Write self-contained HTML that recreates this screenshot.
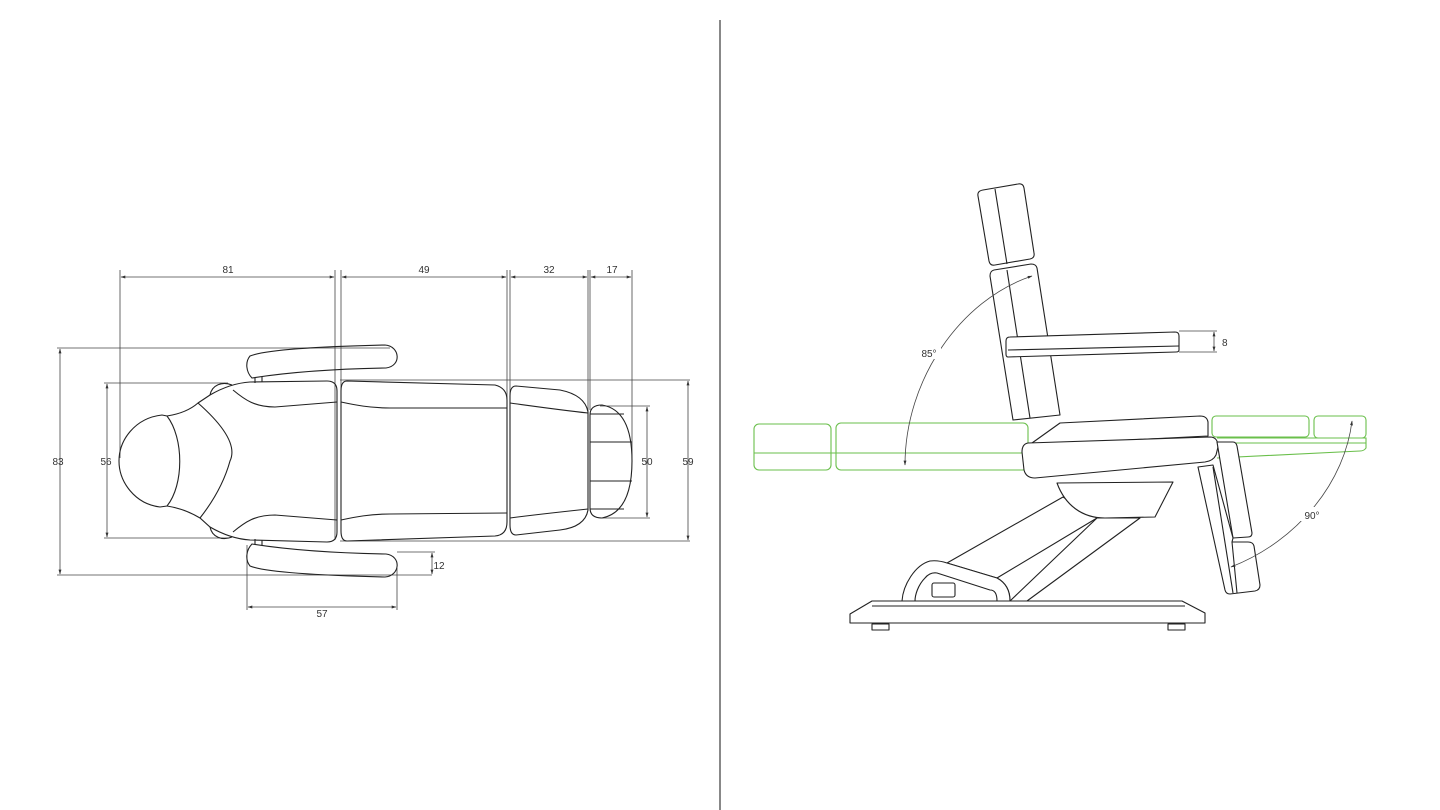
<!DOCTYPE html>
<html><head><meta charset="utf-8"><style>
html,body{margin:0;padding:0;background:#fff;}
svg{display:block;}
text{font-family:"Liberation Sans",sans-serif;font-size:10px;fill:#333;}
</style></head><body>
<svg width="1440" height="810" viewBox="0 0 1440 810" xmlns="http://www.w3.org/2000/svg">
<defs>
<marker id="a" viewBox="0 0 10 10" refX="9" refY="5" markerWidth="6" markerHeight="6" orient="auto-start-reverse"><path d="M0,2 L10,5 L0,8 z" fill="#333"/></marker>
</defs>
<line x1="720" y1="20" x2="720" y2="810" stroke="#888" stroke-width="2"/>

<!-- LEFT: dimension lines -->
<g stroke="#444" stroke-width="0.8" fill="none">
<line x1="120" y1="270" x2="120" y2="458"/>
<line x1="335" y1="270" x2="335" y2="540"/>
<line x1="341" y1="270" x2="341" y2="390"/>
<line x1="507" y1="270" x2="507" y2="400"/>
<line x1="510" y1="270" x2="510" y2="400"/>
<line x1="588" y1="270" x2="588" y2="455"/>
<line x1="590" y1="270" x2="590" y2="410"/>
<line x1="632" y1="270" x2="632" y2="460"/>
<line x1="121" y1="277" x2="334" y2="277" marker-start="url(#a)" marker-end="url(#a)"/>
<line x1="342" y1="277" x2="506" y2="277" marker-start="url(#a)" marker-end="url(#a)"/>
<line x1="511" y1="277" x2="587" y2="277" marker-start="url(#a)" marker-end="url(#a)"/>
<line x1="591" y1="277" x2="631" y2="277" marker-start="url(#a)" marker-end="url(#a)"/>
<line x1="57" y1="348" x2="390" y2="348"/>
<line x1="57" y1="575" x2="432" y2="575"/>
<line x1="60" y1="349" x2="60" y2="574" marker-start="url(#a)" marker-end="url(#a)"/>
<line x1="104" y1="383" x2="228" y2="383"/>
<line x1="104" y1="538" x2="228" y2="538"/>
<line x1="107" y1="384" x2="107" y2="537" marker-start="url(#a)" marker-end="url(#a)"/>
<line x1="340" y1="380" x2="690" y2="380"/>
<line x1="340" y1="541" x2="690" y2="541"/>
<line x1="688" y1="381" x2="688" y2="540" marker-start="url(#a)" marker-end="url(#a)"/>
<line x1="600" y1="406" x2="650" y2="406"/>
<line x1="600" y1="518" x2="650" y2="518"/>
<line x1="647" y1="407" x2="647" y2="517" marker-start="url(#a)" marker-end="url(#a)"/>
<line x1="397" y1="552" x2="435" y2="552"/>
<line x1="432" y1="553" x2="432" y2="574" marker-start="url(#a)" marker-end="url(#a)"/>
<line x1="247" y1="545" x2="247" y2="610"/>
<line x1="397" y1="568" x2="397" y2="610"/>
<line x1="248" y1="607" x2="396" y2="607" marker-start="url(#a)" marker-end="url(#a)"/>
</g>
<g text-anchor="middle">
<text x="228" y="273">81</text><text x="424" y="273">49</text><text x="549" y="273">32</text><text x="612" y="273">17</text>
<text x="58" y="465">83</text><text x="106" y="465">56</text><text x="688" y="465">59</text><text x="647" y="465">50</text>
<text x="439" y="569">12</text><text x="322" y="617">57</text>
</g>

<!-- LEFT: body -->
<g stroke="#222" stroke-width="1.1" fill="none">
<path d="M162,415 C135,418 119,440 119,461 C119,482 135,504 160,507 L167,506 C184,485 184,438 167,416 Z"/>
<path d="M167,416 C180,414 190,410 198,403 L210,395 C222,388 235,383 250,382 L327,381 Q337,381 337,391 L337,532 Q337,542 327,542 L250,540 C235,539 222,534 210,527 L200,518 C190,512 180,508 167,506"/>
<path d="M198,403 Q240,440 230,461 Q222,490 200,518"/>
<path d="M210,395 C212,385 222,381 232,385"/>
<path d="M210,527 C212,537 222,541 232,537"/>
<path d="M233,390 C245,400 255,407 275,407 L337,402"/>
<path d="M233,532 C245,522 255,515 275,515 L337,520"/>
<path d="M252,378 C246,372 245,362 250,356 C262,351 300,347 385,345 C400,346 402,366 386,368 C330,369 290,372 252,378 Z"/>
<path d="M252,544 C246,550 245,560 250,566 C262,571 300,575 385,577 C400,576 402,556 386,554 C330,553 290,550 252,544 Z"/>
<path d="M255,378 L255,383 M262,377 L262,382 M255,544 L255,539 M262,545 L262,540"/>
<path d="M347,381 L495,385 Q507,388 507,400 L507,522 Q507,535 495,536 L347,541 Q341,541 341,531 L341,391 Q341,381 347,381 Z"/>
<path d="M341,402 C355,405 370,408 390,408 L507,408"/>
<path d="M341,520 C355,517 370,514 390,514 L507,513"/>
<path d="M516,386 L560,390 Q585,395 588,412 L588,510 Q585,527 560,530 L516,535 Q510,535 510,525 L510,396 Q510,386 516,386 Z"/>
<path d="M510,403 C525,405 560,410 588,413"/>
<path d="M510,518 C525,516 560,512 588,509"/>
<path d="M602,405 Q632,410 632,461 Q632,512 602,518 Q590,518 590,508 L590,415 Q590,405 602,405 Z"/>
<path d="M590,414 L624,414 M590,442 L632,442 M590,481 L632,481 M590,509 L624,509"/>
</g>

<!-- RIGHT: green flat position -->
<g stroke="#6abf4b" stroke-width="1.1" fill="none">
<rect x="754" y="424" width="77" height="46" rx="5"/>
<rect x="836" y="423" width="192" height="47" rx="5"/>
<line x1="754" y1="453" x2="1028" y2="453"/>
<rect x="1212" y="416" width="97" height="21" rx="4"/>
<rect x="1314" y="416" width="52" height="22" rx="4"/>
<path d="M1217,438 L1366,438 L1366,448 Q1364,451 1360,451 L1217,458"/>
<line x1="1217" y1="443" x2="1366" y2="443"/>
</g>

<!-- RIGHT: chair -->
<g stroke="#222" stroke-width="1.1" fill="#fff" stroke-linejoin="round">
<path d="M983,190 L1018,184 Q1023,183 1024,188 L1034,253 Q1035,258 1030,259 L995,265 Q990,266 989,261 L978,196 Q977,191 983,190 Z"/>
<path d="M995,189 L1007,264" fill="none"/>
<path d="M994,270 L1031,264 Q1036,264 1037,268 L1060,415 L1013,420 L990,276 Q990,271 994,270 Z"/>
<path d="M1007,270 L1030,418" fill="none"/>
<path d="M1032,443 L1060,423 L1200,416 Q1207,416 1208,422 L1208,436 L1030,445 Z"/>
<path d="M1063,497 L947,563 L997,578 L1097,518 Z"/>
<path d="M1097,518 L1010,601 L1027,601 L1140,518 Z"/>
<path d="M1057,483 C1065,505 1082,518 1105,518 L1155,517 L1173,482 Z"/>
<path d="M997,578 Q1010,585 1010,601" fill="none"/>
<path d="M872,601 L1182,601 L1205,613 L1205,623 L850,623 L850,614 Z"/>
<line x1="872" y1="606" x2="1185" y2="606" fill="none"/>
<rect x="872" y="624" width="17" height="6"/>
<rect x="1168" y="624" width="17" height="6"/>
<path d="M902,601 C903,585 915,565 930,561 Q938,560 947,563 L997,578 Q1010,585 1010,601 L997,601 Q997,590 990,590 L937,573 Q930,572 925,578 C918,585 915,595 915,601 Z"/>
<rect x="932" y="583" width="23" height="14" rx="2"/>
<path d="M1028,443 L1210,437 Q1218,437 1218,447 L1216,455 Q1213,461 1205,462 L1035,478 Q1026,478 1024,470 L1022,452 Q1022,444 1028,443 Z"/>
<path d="M1217,442 L1233,442 Q1236,442 1237,446 L1252,533 Q1252,537 1248,537 L1233,538 Z"/>
<path d="M1198,467 L1213,465 L1233,538 L1232,542 L1248,542 Q1253,542 1254,546 L1260,585 Q1260,590 1255,591 L1230,594 Q1226,594 1225,590 Z"/>
<path d="M1213,467 L1233,593" fill="none"/>
<path d="M1232,542 L1237,593" fill="none"/>
<path d="M1010,337 L1175,332 Q1179,332 1179,336 L1179,350 Q1179,352 1176,352 L1008,357 Q1006,357 1006,354 L1006,341 Q1006,337 1010,337 Z"/>
<line x1="1008" y1="350" x2="1179" y2="346" fill="none"/>
</g>

<!-- RIGHT: dims -->
<g stroke="#444" stroke-width="0.8" fill="none">
<line x1="1179" y1="331" x2="1217" y2="331"/>
<line x1="1179" y1="352" x2="1217" y2="352"/>
<line x1="1214" y1="332" x2="1214" y2="351" marker-start="url(#a)" marker-end="url(#a)"/>
<path d="M1032,276 C960,300 905,380 905,465" marker-start="url(#a)" marker-end="url(#a)"/>
<path d="M1231,567 C1300,540 1345,480 1352,421" marker-start="url(#a)" marker-end="url(#a)"/>
</g>
<rect x="917" y="345" width="24" height="14" fill="#fff"/>
<rect x="1300" y="507" width="24" height="14" fill="#fff"/>
<text x="1222" y="346">8</text>
<text x="929" y="357" text-anchor="middle">85°</text>
<text x="1312" y="519" text-anchor="middle">90°</text>
</svg>
</body></html>
